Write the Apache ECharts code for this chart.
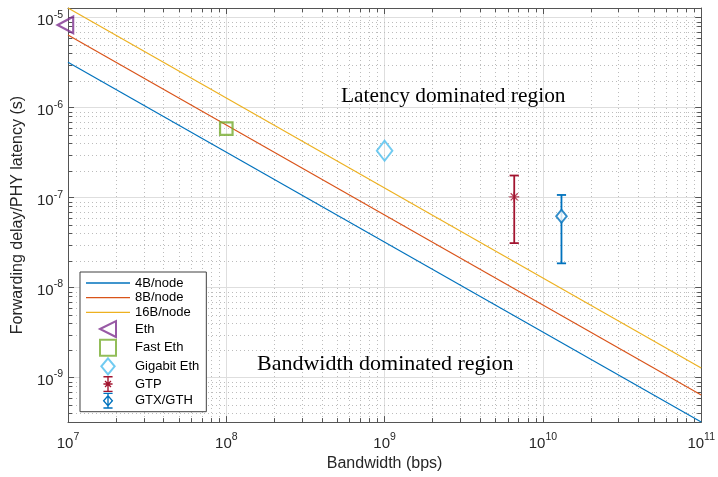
<!DOCTYPE html>
<html>
<head>
<meta charset="utf-8">
<script src="https://cdn.jsdelivr.net/npm/echarts@6/dist/echarts.min.js"></script>
<style>html,body{margin:0;padding:0;background:#fff}#c{width:718px;height:477px}</style>
</head>
<body>
<div id="c"></div>
<script>
// ---- data ----
const bandwidthBps = [1e7, 1e11];
const latency4B = [3.2e-6, 3.2e-10];
const latency8B = [6.4e-6, 6.4e-10];
const latency16B = [1.28e-5, 1.28e-9];
const ethPoint = [1e7, 8.3e-6];
const fastEthPoint = [1e8, 5.83e-7];
const gigabitEthPoint = [1e9, 3.32e-7];
const gtpPoint = [6.59e9, 1.02e-7];
const gtpRange = [3.12e-8, 1.76e-7];
const gtxPoint = [1.31e10, 6.2e-8];
const gtxRange = [1.86e-8, 1.07e-7];
const xRange = [1e7, 1e11];
const yRange = [3.2e-10, 1.28e-5];
const minorMultipliers = [2, 3, 4, 5, 6, 7, 8, 9];
const xDecades = [7, 8, 9, 10];
const yDecades = [-10, -9, -8, -7, -6, -5];
const seriesNames = ['4B/node', '8B/node', '16B/node', 'Eth', 'Fast Eth', 'Gigabit Eth', 'GTP', 'GTX/GTH'];
const annotationTexts = ['Latency dominated region', 'Bandwidth dominated region'];

// minor grid positions
function minorValues(decades, range) {
  const out = [];
  decades.forEach(d => minorMultipliers.forEach(k => {
    const v = Number((k * Math.pow(10, d)).toPrecision(4));
    if (v > range[0] * 1.0001 && v < range[1] * 0.9999) out.push(v);
  }));
  return out;
}
const xMinor = minorValues(xDecades, xRange);
const yMinor = minorValues(yDecades, yRange);

const C = {
  blue: '#0072BD', orange: '#D95319', yellow: '#EDB120', purple: '#7E2F8E',
  green: '#77AC30', cyan: '#4DBEEE', red: '#A2142F'
};
const axisColor = '#555';
const minorGridColor = '#bcbcbc';
const FONT = '"Liberation Sans", Arial, Helvetica, sans-serif';

function powLabel(v) {
  const lg = Math.log10(v);
  const e = Math.round(lg);
  if (Math.abs(lg - e) > 1e-6) return '';
  return '{b|10}{s|' + e + '}';
}
const richLabel = {
  b: { fontSize: 15, fontFamily: FONT, color: '#262626', padding: [6, 0, 0, 0] },
  s: { fontSize: 10.5, fontFamily: FONT, color: '#262626', padding: [0, 0, 6, 0] }
};

const triLeft = 'path://M0,5 L10,0 L10,10 Z';
const squarePath = 'path://M0,0 L10,0 L10,10 L0,10 Z';
const diamondPath = 'path://M5,0 L10,6 L5,12 L0,6 Z';
const linePath = 'path://M0,0 L44,0 L44,1.3 L0,1.3 Z';
const asterisk = 'path://M4.3,0 L5.7,0 L5.7,10 L4.3,10 Z M0,4.3 L10,4.3 L10,5.7 L0,5.7 Z M1,1.9 L1.9,1 L9,8.1 L8.1,9 Z M8.1,1 L9,1.9 L1.9,9 L1,8.1 Z';
const gtpIcon = 'path://M1,0 L9,0 L9,1.2 L1,1.2 Z M1,12.8 L9,12.8 L9,14 L1,14 Z M4.4,0 L5.6,0 L5.6,14 L4.4,14 Z M1,6.4 L9,6.4 L9,7.6 L1,7.6 Z M2,4.8 L2.8,4 L8,9.2 L7.2,10 Z M7.2,4 L8,4.8 L2.8,10 L2,9.2 Z';
const gtxIcon = 'path://M1,0 L9,0 L9,1.2 L1,1.2 Z M1,12.8 L9,12.8 L9,14 L1,14 Z M4.4,0 L5.6,0 L5.6,14 L4.4,14 Z M5,1.8 L9.6,7 L5,12.2 L0.4,7 Z M5,3.5 L2,7 L5,10.5 L8,7 Z';

function errorBarRender(color) {
  return function (params, api) {
    const x = api.value(0);
    const lo = api.coord([x, api.value(1)]);
    const hi = api.coord([x, api.value(2)]);
    const w = 4.6;
    const st = { stroke: color, lineWidth: 1.8, fill: null };
    return {
      type: 'group', children: [
        { type: 'line', shape: { x1: lo[0], y1: lo[1], x2: hi[0], y2: hi[1] }, style: st },
        { type: 'line', shape: { x1: lo[0] - w, y1: lo[1], x2: lo[0] + w, y2: lo[1] }, style: st },
        { type: 'line', shape: { x1: hi[0] - w, y1: hi[1], x2: hi[0] + w, y2: hi[1] }, style: st }
      ]
    };
  };
}

const chart = echarts.init(document.getElementById('c'), null, { renderer: 'canvas' });

const hollow = (c, w) => ({ color: 'rgba(0,0,0,0)', borderColor: c, borderWidth: w });

const option = {
  animation: false,
  backgroundColor: '#fff',
  grid: { left: 68, right: 10, top: 8, bottom: 54, containLabel: false },
  xAxis: [
    {
      type: 'log', logBase: 10, min: xRange[0], max: xRange[1], position: 'bottom',
      name: 'Bandwidth (bps)', nameLocation: 'middle', nameGap: 33,
      nameTextStyle: { fontFamily: FONT, fontSize: 16, color: '#262626' },
      axisLine: { show: true, lineStyle: { color: axisColor, width: 1 } },
      axisTick: { show: true, inside: true, length: 6, lineStyle: { color: axisColor } },
      axisLabel: { margin: 8, formatter: powLabel, rich: richLabel, showMinLabel: true, showMaxLabel: true },
      splitLine: { show: true, lineStyle: { color: '#dedede', width: 1 } },
      minorTick: { show: false }, minorSplitLine: { show: false }
    },
    {
      type: 'log', logBase: 10, min: xRange[0], max: xRange[1], position: 'top',
      axisLine: { show: true, lineStyle: { color: axisColor, width: 1 } },
      axisTick: { show: true, inside: true, length: 6, lineStyle: { color: axisColor } },
      axisLabel: { show: false }, splitLine: { show: false }
    }
  ],
  yAxis: [
    {
      type: 'log', logBase: 10, min: yRange[0], max: yRange[1], position: 'left',
      name: 'Forwarding delay/PHY latency (s)', nameLocation: 'middle', nameGap: 34,
      nameTextStyle: { fontFamily: FONT, fontSize: 16, color: '#262626' },
      axisLine: { show: true, lineStyle: { color: axisColor, width: 1 } },
      axisTick: { show: true, inside: true, length: 6, lineStyle: { color: axisColor } },
      axisLabel: { margin: 5, formatter: powLabel, rich: richLabel },
      splitLine: { show: true, lineStyle: { color: '#dedede', width: 1 } },
      minorTick: { show: false }, minorSplitLine: { show: false }
    },
    {
      type: 'log', logBase: 10, min: yRange[0], max: yRange[1], position: 'right',
      axisLine: { show: true, lineStyle: { color: axisColor, width: 1 } },
      axisTick: { show: true, inside: true, length: 6, lineStyle: { color: axisColor } },
      axisLabel: { show: false }, splitLine: { show: false }
    }
  ],
  legend: {
    orient: 'vertical', left: 80, top: 272, padding: [4, 7, 3, 6],
    itemWidth: 44, itemHeight: 16, itemGap: 0.67,
    backgroundColor: '#fff', borderColor: '#404040', borderWidth: 1, borderRadius: 0,
    textStyle: { fontFamily: FONT, fontSize: 13, color: '#000', lineHeight: 14 },
    selectedMode: false,
    data: [
      { name: seriesNames[0], icon: linePath, itemStyle: { color: C.blue, borderWidth: 0 } },
      { name: seriesNames[1], icon: linePath, itemStyle: { color: C.orange, borderWidth: 0 } },
      { name: seriesNames[2], icon: linePath, itemStyle: { color: C.yellow, borderWidth: 0 } },
      { name: seriesNames[3], icon: triLeft, itemStyle: hollow(C.purple, 2) },
      { name: seriesNames[4], icon: squarePath, itemStyle: hollow(C.green, 2) },
      { name: seriesNames[5], icon: diamondPath, itemStyle: hollow(C.cyan, 2) },
      { name: seriesNames[6], icon: gtpIcon, itemStyle: { color: C.red, borderWidth: 0 } },
      { name: seriesNames[7], icon: gtxIcon, itemStyle: { color: C.blue, borderWidth: 0 } }
    ]
  },
  graphic: [
    { type: 'text', left: 341, top: 86, silent: true, z: 10,
      style: { text: annotationTexts[0], font: '21.4px "Liberation Serif", "Times New Roman", serif', fill: '#000' } },
    { type: 'text', left: 257, top: 353, silent: true, z: 10,
      style: { text: annotationTexts[1], font: '22px "Liberation Serif", "Times New Roman", serif', fill: '#000' } }
  ],
  series: [
    {
      type: 'custom', silent: true, z: 1, clip: false,
      data: xMinor.map(v => [v, yRange[0]]), encode: { x: 0, y: 1 },
      renderItem: function (params, api) {
        const v = api.value(0);
        const b = api.coord([v, yRange[0]]);
        const t = api.coord([v, yRange[1]]);
        const x = Math.round(b[0]) + 0.5;
        return { type: 'group', children: [
          { type: 'line', shape: { x1: x, y1: t[1], x2: x, y2: b[1] }, style: { stroke: minorGridColor, lineWidth: 1, lineDash: [1, 3] } },
          { type: 'line', shape: { x1: x, y1: b[1], x2: x, y2: b[1] - 4 }, style: { stroke: axisColor, lineWidth: 1 } },
          { type: 'line', shape: { x1: x, y1: t[1], x2: x, y2: t[1] + 4 }, style: { stroke: axisColor, lineWidth: 1 } }
        ] };
      }
    },
    {
      type: 'custom', silent: true, z: 1, clip: false,
      data: yMinor.map(v => [xRange[0], v]), encode: { x: 0, y: 1 },
      renderItem: function (params, api) {
        const v = api.value(1);
        const l = api.coord([xRange[0], v]);
        const r = api.coord([xRange[1], v]);
        const y = Math.round(l[1]) + 0.5;
        return { type: 'group', children: [
          { type: 'line', shape: { x1: l[0], y1: y, x2: r[0], y2: y }, style: { stroke: minorGridColor, lineWidth: 1, lineDash: [1, 3] } },
          { type: 'line', shape: { x1: l[0], y1: y, x2: l[0] + 4, y2: y }, style: { stroke: axisColor, lineWidth: 1 } },
          { type: 'line', shape: { x1: r[0], y1: y, x2: r[0] - 4, y2: y }, style: { stroke: axisColor, lineWidth: 1 } }
        ] };
      }
    },
    {
      name: seriesNames[0], type: 'line', symbol: 'none', z: 3,
      data: bandwidthBps.map((x, i) => [x, latency4B[i]]),
      lineStyle: { color: C.blue, width: 1.2 }, itemStyle: { color: C.blue }
    },
    {
      name: seriesNames[1], type: 'line', symbol: 'none', z: 3,
      data: bandwidthBps.map((x, i) => [x, latency8B[i]]),
      lineStyle: { color: C.orange, width: 1.2 }, itemStyle: { color: C.orange }
    },
    {
      name: seriesNames[2], type: 'line', symbol: 'none', z: 3,
      data: bandwidthBps.map((x, i) => [x, latency16B[i]]),
      lineStyle: { color: C.yellow, width: 1.2 }, itemStyle: { color: C.yellow }
    },
    {
      name: seriesNames[3], type: 'scatter', clip: false, z: 4,
      symbol: triLeft, symbolSize: [15.6, 16.6], symbolOffset: [-2.6, 0],
      data: [ethPoint], itemStyle: hollow(C.purple, 2.2)
    },
    {
      name: seriesNames[4], type: 'scatter', clip: false, z: 4,
      symbol: squarePath, symbolSize: 12.5,
      data: [fastEthPoint], itemStyle: hollow(C.green, 2.2)
    },
    {
      name: seriesNames[5], type: 'scatter', clip: false, z: 4,
      symbol: 'diamond', symbolSize: [15.5, 20],
      data: [gigabitEthPoint], itemStyle: hollow(C.cyan, 2)
    },
    {
      name: seriesNames[6], type: 'custom', z: 4, clip: false,
      data: [[gtpPoint[0], gtpRange[0], gtpRange[1]]], encode: { x: 0, y: [1, 2] },
      itemStyle: { color: C.red },
      renderItem: errorBarRender(C.red)
    },
    {
      name: seriesNames[6], type: 'scatter', clip: false, z: 5,
      symbol: asterisk, symbolSize: 10,
      data: [gtpPoint], itemStyle: { color: C.red }
    },
    {
      name: seriesNames[7], type: 'custom', z: 4, clip: false,
      data: [[gtxPoint[0], gtxRange[0], gtxRange[1]]], encode: { x: 0, y: [1, 2] },
      itemStyle: { color: C.blue },
      renderItem: errorBarRender(C.blue)
    },
    {
      name: seriesNames[7], type: 'scatter', clip: false, z: 5,
      symbol: 'diamond', symbolSize: [10.5, 13],
      data: [gtxPoint], itemStyle: { color: '#fff', borderColor: C.blue, borderWidth: 2 }
    }
  ]
};
chart.setOption(option);
</script>
</body>
</html>
